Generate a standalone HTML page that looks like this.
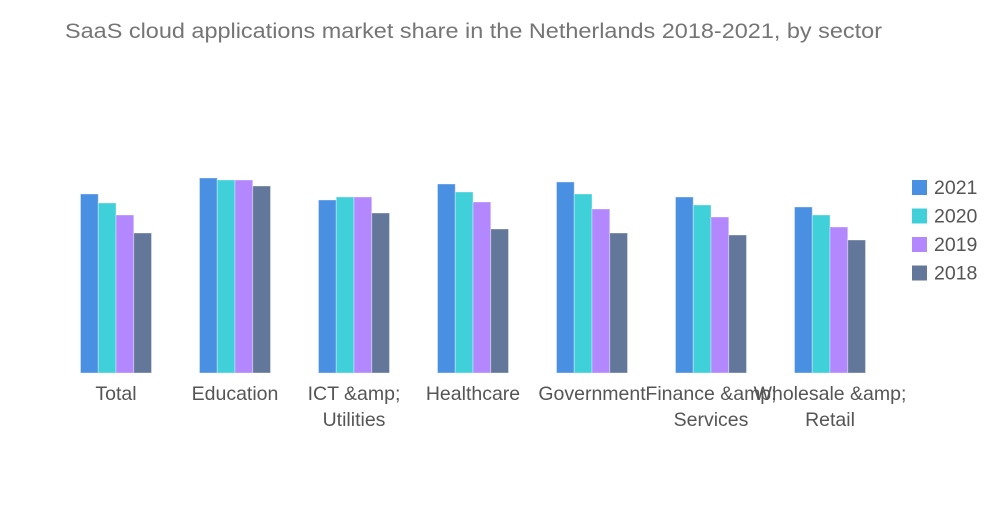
<!DOCTYPE html>
<html><head><meta charset="utf-8"><style>
body{margin:0;background:#fff;}
svg text{font-family:"Liberation Sans",sans-serif;}
</style></head><body>
<svg width="1000" height="504" viewBox="0 0 1000 504">
<text x="65" y="38" font-size="21" fill="#757575" textLength="817" lengthAdjust="spacingAndGlyphs">SaaS cloud applications market share in the Netherlands 2018-2021, by sector</text>
<g id="bars"></g>
<g id="xlabels"></g>
<g id="legend"></g>
</svg>
<script>
const categories=[["Total"],["Education"],["ICT &amp;","Utilities"],["Healthcare"],["Government"],["Finance &amp;","Services"],["Wholesale &amp;","Retail"]];
const seriesNames=["2021","2020","2019","2018"];
const s2021=[179,195,173,189,191,176,166];
const s2020=[170,193,176,181,179,168,158];
const s2019=[158,193,176,171,164,156,146];
const s2018=[140,187,160,144,140,138,133];
const series=[s2021,s2020,s2019,s2018];
const colors=["#4a90e2","#3fd0d9","#b388ff","#63779a"];
const NS="http://www.w3.org/2000/svg";
const baseY=373,plotTop=173,maxV=200;
const y=v=>baseY-(v/maxV)*(baseY-plotTop);
const bandStart=56.5,band=119,barW=17.75;
const xc=i=>bandStart+band*i+band/2;
const bars=document.getElementById('bars');
series.forEach((s,si)=>{s.forEach((v,i)=>{
 const r=document.createElementNS(NS,'rect');
 r.setAttribute('x',xc(i)-2*barW+si*barW);
 r.setAttribute('y',y(v));
 r.setAttribute('width',barW);
 r.setAttribute('height',baseY-y(v));
 r.setAttribute('fill',colors[si]);
 r.setAttribute('stroke','rgba(255,255,255,0.35)');
 r.setAttribute('stroke-width','1');
 
 
 bars.appendChild(r);
});});
const xl=document.getElementById('xlabels');
categories.forEach((c,i)=>{c.forEach((line,li)=>{
 const t=document.createElementNS(NS,'text');
 t.setAttribute('x',xc(i));
 t.setAttribute('y',400+li*26);
 t.setAttribute('text-anchor','middle');
 t.setAttribute('font-size','19.5');
 t.setAttribute('fill','#555');
 t.textContent=line;
 
 
 xl.appendChild(t);
});});
const lg=document.getElementById('legend');
seriesNames.forEach((n,i)=>{
 const r=document.createElementNS(NS,'rect');
 r.setAttribute('x',912);r.setAttribute('y',180+i*28.5);
 r.setAttribute('width',15);r.setAttribute('height',15);
 r.setAttribute('fill',colors[i]);
 
 
 lg.appendChild(r);
 const t=document.createElementNS(NS,'text');
 t.setAttribute('x',934);t.setAttribute('y',194+i*28.5);
 t.setAttribute('font-size','19.5');t.setAttribute('fill','#555');
 t.textContent=n;
 
 
 lg.appendChild(t);
});
</script>
</body></html>
